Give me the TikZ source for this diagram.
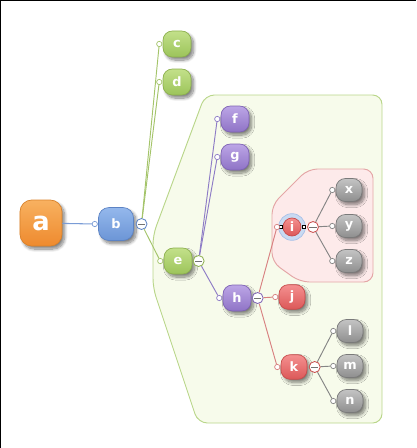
\documentclass[tikz,border=0pt]{standalone}
\usepackage{fontspec}
\setsansfont{DejaVu Sans}
\usetikzlibrary{positioning,shadows.blur}

\definecolor{orgT}{HTML}{F8B160}\definecolor{orgB}{HTML}{EE8A2E}\definecolor{orgD}{HTML}{D9822B}
\definecolor{bluT}{HTML}{94B8EC}\definecolor{bluB}{HTML}{6C95D6}\definecolor{bluD}{HTML}{5C83C4}
\definecolor{grnT}{HTML}{C3E08A}\definecolor{grnB}{HTML}{9CC45A}\definecolor{grnD}{HTML}{8DB04E}
\definecolor{purT}{HTML}{BCA6E6}\definecolor{purB}{HTML}{8F73C6}\definecolor{purD}{HTML}{7E62B5}
\definecolor{redT}{HTML}{F49090}\definecolor{redB}{HTML}{DC5858}\definecolor{redD}{HTML}{C84C4C}
\definecolor{silT}{HTML}{C4C4C4}\definecolor{silB}{HTML}{8E8E8E}\definecolor{silD}{HTML}{7A7A7A}
\definecolor{gzone}{HTML}{F7FBEB}\definecolor{gzoneD}{HTML}{B9D68A}
\definecolor{rzone}{HTML}{FDEAEA}\definecolor{rzoneD}{HTML}{E4A6A6}
\definecolor{bline}{HTML}{7A9CD6}\definecolor{gline}{HTML}{A4C46A}
\definecolor{pline}{HTML}{8E7CC6}\definecolor{rline}{HTML}{D88080}\definecolor{sline}{HTML}{858585}
\definecolor{haloF}{HTML}{C9DAF2}\definecolor{haloD}{HTML}{A9C1E8}

\begin{document}
\begin{tikzpicture}[x=0.03cm, y=-0.03cm,
  topic/.style={rounded corners=8pt, minimum width=0.84cm, minimum height=0.78cm, inner sep=0pt,
    line width=0.6pt, text=white, font=\sffamily\bfseries\fontsize{11}{12}\selectfont,
    blur shadow={shadow xshift=2.2pt, shadow yshift=-2.6pt, shadow blur radius=2.6pt, shadow blur steps=10, shadow opacity=50}},
  btopic/.style={topic, top color=bluT, bottom color=bluB, draw=bluD},
  gtopic/.style={topic, top color=grnT, bottom color=grnB, draw=grnD},
  ptopic/.style={topic, top color=purT, bottom color=purB, draw=purD},
  rtopic/.style={topic, top color=redT, bottom color=redB, draw=redD},
  stopic/.style={topic, top color=silT, bottom color=silB, draw=silD, minimum width=0.78cm, minimum height=0.69cm},
  attach/.style={circle, fill=white, inner sep=0pt, minimum size=0.16cm, line width=0.6pt},
  fold/.style={circle, fill=white, inner sep=0pt, minimum size=0.33cm, line width=0.7pt,
    path picture={\draw[black!55, line width=0.7pt] ([xshift=1.6pt]path picture bounding box.west) -- ([xshift=-1.6pt]path picture bounding box.east);}},
  grip/.style={rectangle, draw=black, fill=white, inner sep=0pt, minimum size=0.1cm, line width=0.6pt}]
\useasboundingbox (0,0) rectangle (416,448);
\draw[black, line width=1.2pt] (0.6,448) -- (0.6,0.6) -- (416,0.6);

% boundaries
\filldraw[fill=gzone, draw=gzoneD, line width=0.8pt, rounded corners=8pt]
  (205,95) -- (382,95) -- (382,423) -- (198,423) -- (153,288) -- (153,235) -- cycle;
\filldraw[fill=rzone, draw=rzoneD, line width=0.8pt, rounded corners=8pt]
  (308,169) -- (373,169) -- (373,282) -- (300,282) -- (272,262) -- (272,205) -- cycle;

% central topic and main branch
\node[topic, top color=orgT, bottom color=orgB, draw=orgD, minimum width=1.26cm, minimum height=1.38cm,
  rounded corners=10pt, font=\sffamily\bfseries\fontsize{22}{24}\selectfont] (a) at (41,223) {a};
\node[btopic, minimum width=1.05cm, minimum height=0.99cm, rounded corners=9pt] (b) at (116,224) {b};
\node[attach, draw=bline, left=0.3pt of b] (b-in) {};
\node[fold, draw=bluD, right=1.5pt of b] (b-out) {};

% subtopics
\foreach \n/\x/\y in {c/177/44, d/177/82, e/178/261} {
  \node[gtopic] (\n) at (\x,\y) {\n};
  \node[attach, draw=gline, left=0.3pt of \n] (\n-in) {};
}
\foreach \n/\x/\y in {f/235/119, g/235/157, h/237/298} {
  \node[ptopic] (\n) at (\x,\y) {\n};
  \node[attach, draw=pline, left=0.3pt of \n] (\n-in) {};
}
\foreach \n/\x/\y in {j/292/297, k/294/367} {
  \node[rtopic, minimum width=0.78cm, minimum height=0.74cm] (\n) at (\x,\y) {\n};
  \node[attach, draw=rline, left=0.3pt of \n] (\n-in) {};
}
\foreach \n/\x/\y in {x/349/190, y/349/226, z/349/261, l/350/331, m/350/366, n/350/401} {
  \node[stopic] (\n) at (\x,\y) {\n};
  \node[attach, draw=sline, left=0.3pt of \n] (\n-in) {};
}

% selected topic
\node[circle, fill=haloF, draw=haloD, line width=0.6pt, minimum size=0.8cm] (i-halo) at (292,227) {};
\node[circle, top color=redT, bottom color=redB, draw=redD, line width=0.6pt, minimum size=0.54cm, inner sep=0pt,
  text=white, font=\sffamily\bfseries\fontsize{11}{12}\selectfont] (i) at (292,227) {i};
\node[grip] (i-grip1) at (281,227) {};
\node[grip] (i-grip2) at (304,227) {};
\node[attach, draw=rline] (i-in) at (277,227) {};

% fold buttons
\node[fold, draw=grnD, right=0.3pt of e] (e-out) {};
\node[fold, draw=purD, right=0.3pt of h] (h-out) {};
\node[fold, draw=redD] (i-out) at (313,227) {};
\node[fold, draw=redD, right=1.2pt of k] (k-out) {};

% connectors
\draw[bline, line width=0.9pt] (a) -- (b-in);
\foreach \t in {c,d,e} \draw[gline, line width=0.8pt] (b-out) -- (\t-in);
\foreach \t in {f,g,h} \draw[pline, line width=0.8pt] (e-out) -- (\t-in);
\foreach \t in {i,j,k} \draw[rline, line width=0.8pt] (h-out) -- (\t-in);
\foreach \t in {x,y,z} \draw[sline, line width=0.8pt] (i-out) -- (\t-in);
\foreach \t in {l,m,n} \draw[sline, line width=0.8pt] (k-out) -- (\t-in);
\end{tikzpicture}
\end{document}
